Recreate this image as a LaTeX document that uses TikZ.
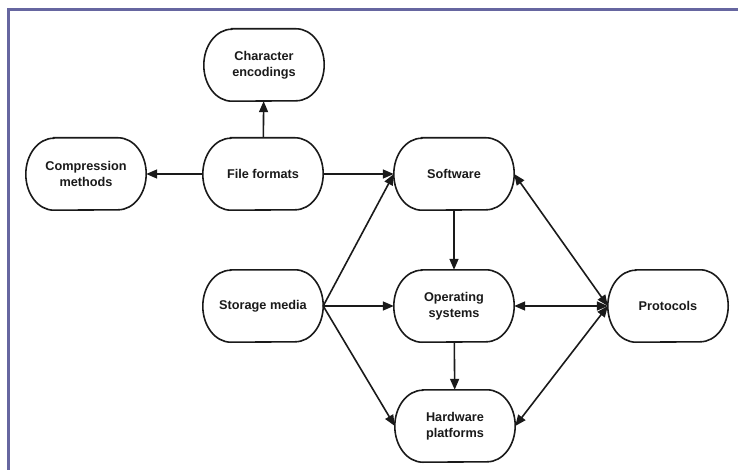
\documentclass[tikz,border=0pt]{standalone}
\usepackage{fontspec}
\setmainfont{Liberation Sans}
\usetikzlibrary{arrows.meta}
\definecolor{framecol}{HTML}{6666A0}
\definecolor{inkcol}{HTML}{1A1A1A}
\tikzset{
  pill/.style={rectangle, minimum width=120pt, minimum height=72pt, inner sep=0pt, align=center,
    font=\fontsize{12.7}{16}\selectfont\bfseries, text=inkcol},
  outline/.style={draw=inkcol, line width=1.6pt},
  link/.style={draw=inkcol, line width=1.6pt, -{Triangle[length=11pt,width=9pt]}},
  dlink/.style={draw=inkcol, line width=1.6pt, {Triangle[length=11pt,width=9pt]}-{Triangle[length=11pt,width=9pt]}}
}
\begin{document}
\begin{tikzpicture}[x=1pt,y=-1pt]
\useasboundingbox (0,0) rectangle (738,470);
\fill[white] (0,0) rectangle (738,470);
% frame along the top and left edges
\draw[framecol, line width=3pt] (8.5,470) -- (8.5,9.5) -- (738,9.5);

\node[pill] (chr) at (264,65) {Character\\encodings};
\node[pill] (cmp) at (86,174) {Compression\\methods};
\node[pill] (fil) at (263,174) {File formats};
\node[pill] (sw)  at (454,174) {Software};
\node[pill] (sto) at (263,306) {Storage media};
\node[pill] (os)  at (454,306) {Operating\\systems};
\node[pill] (pro) at (668,306) {Protocols};
\node[pill] (hw)  at (455,426) {Hardware\\platforms};

% pill outlines: flat top and bottom, half-elliptic ends
\foreach \n in {chr,cmp,fil,sw,sto,os,pro,hw}
  \draw[outline] ([xshift=28pt]\n.north west) -- ([xshift=-28pt]\n.north east)
    arc[start angle=90, end angle=-90, x radius=28pt, y radius=36pt]
    -- ([xshift=28pt]\n.south west)
    arc[start angle=270, end angle=90, x radius=28pt, y radius=36pt] -- cycle;

\draw[link] (fil) -- (chr);
\draw[link] (fil) -- (cmp);
\draw[link] (fil) -- (sw);
\draw[link] (sto.east) -- (sw.west);
\draw[link] (sto) -- (os);
\draw[link] (sto.east) -- (hw.west);
\draw[link] (sw) -- (os);
\draw[link] (os) -- (hw);
\draw[dlink] (pro.west) -- (sw.east);
\draw[dlink] (pro.west) -- (os.east);
\draw[dlink] (pro.west) -- (hw.east);
\end{tikzpicture}
\end{document}
